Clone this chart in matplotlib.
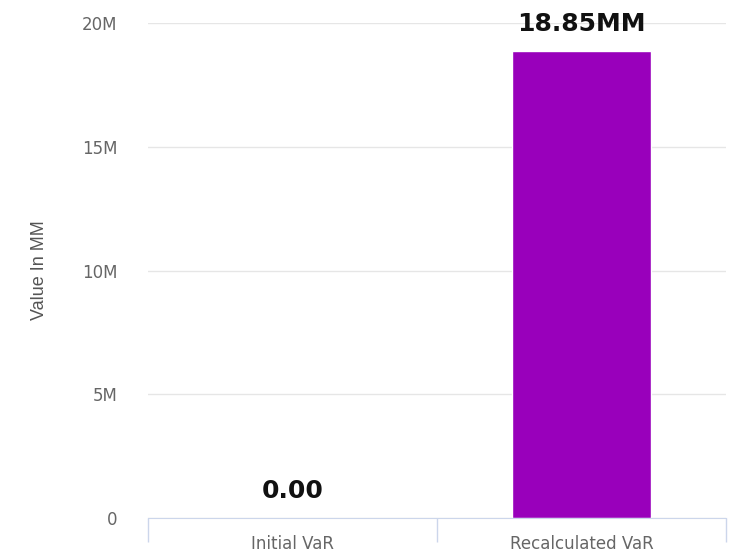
import matplotlib.pyplot as plt
from matplotlib.ticker import FuncFormatter, FixedLocator

# Datos del gráfico
categorias = ['Initial VaR', 'Recalculated VaR']
valores = [0.0, 18.85e6]
etiquetas = ['0.00', '18.85MM']
ticks_y = [0, 5e6, 10e6, 15e6, 20e6]

fig = plt.figure(figsize=(7.3, 5.56), dpi=100)
ax = fig.add_axes([148 / 730, 38 / 556, 578 / 730, 495 / 556])

x = range(len(categorias))
ax.bar(x, valores, width=0.48, color='#9900bb', edgecolor='white', linewidth=1, zorder=3)

# Etiquetas de valor sobre cada barra
for xi, v, txt in zip(x, valores, etiquetas):
    ax.annotate(txt, (xi, v), xytext=(0, 11), textcoords='offset points',
                ha='center', va='bottom', fontsize=18, fontweight='bold',
                family='DejaVu Sans', color='#111111')

ax.set_xlim(-0.5, 1.5)
ax.set_ylim(0, 20e6)
ax.set_yticks(ticks_y)
ax.yaxis.set_major_formatter(FuncFormatter(lambda v, p: '0' if v == 0 else f'{int(v / 1e6)}M'))
ax.grid(axis='y', color='#e6e6e6', linewidth=1, zorder=0)

ax.set_xticks(list(x))
ax.set_xticklabels(categorias)
ax.xaxis.set_minor_locator(FixedLocator([-0.5, 0.5, 1.5]))
ax.tick_params(axis='x', which='major', length=0, pad=12, labelsize=12, labelcolor='#666666')
ax.tick_params(axis='x', which='minor', length=17, width=1, color='#ccd6eb')
ax.tick_params(axis='y', length=0, pad=22, labelsize=12, labelcolor='#666666')

for lado in ['top', 'right', 'left']:
    ax.spines[lado].set_visible(False)
ax.spines['bottom'].set_color('#ccd6eb')
ax.spines['bottom'].set_zorder(4)

ax.set_ylabel('Value In MM', fontsize=13, color='#555555', family='Liberation Sans')
ax.yaxis.set_label_coords(-100 / 578, 0.5)

fig.savefig('out.png', dpi=100)
